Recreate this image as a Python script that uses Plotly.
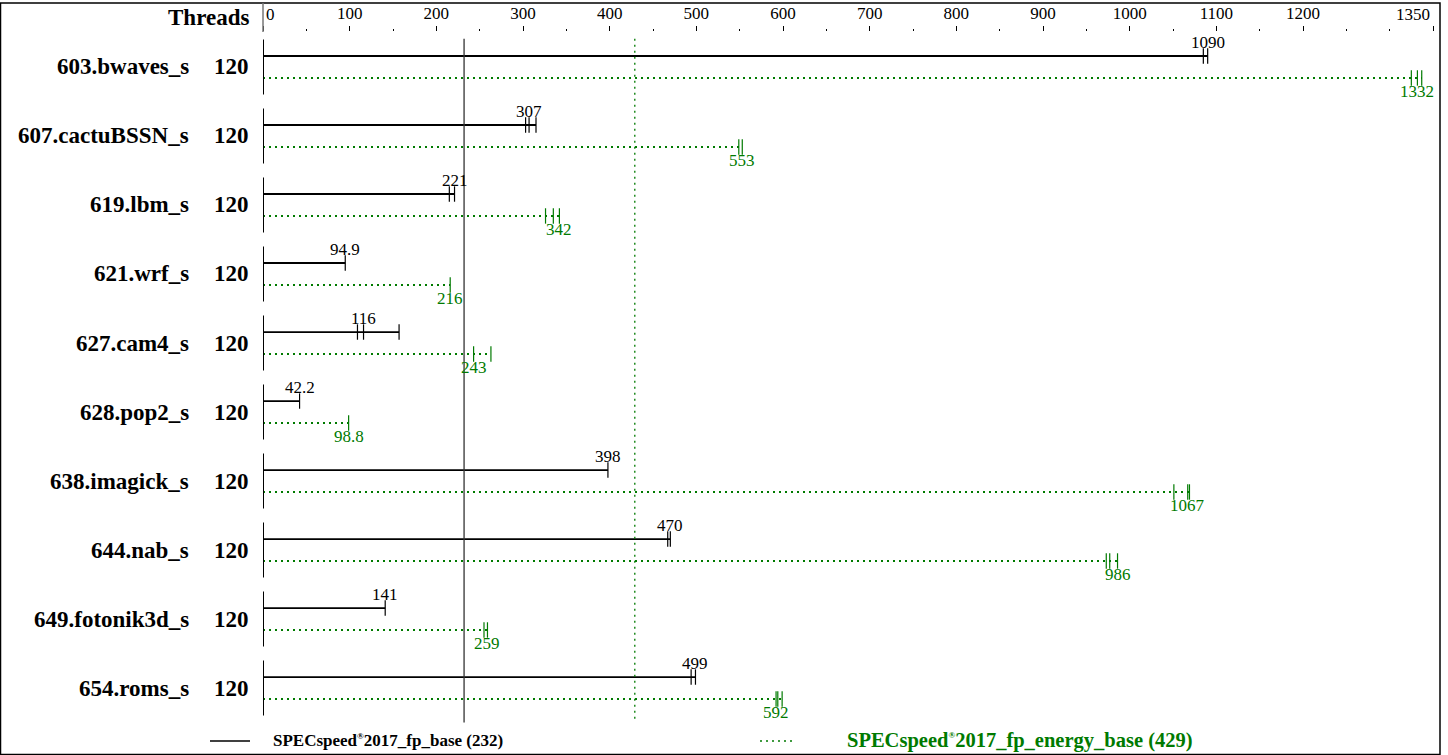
import plotly.graph_objects as go

# Benchmarks, thread counts and scores
benchmarks = ["603.bwaves_s", "607.cactuBSSN_s", "619.lbm_s", "621.wrf_s", "627.cam4_s",
              "628.pop2_s", "638.imagick_s", "644.nab_s", "649.fotonik3d_s", "654.roms_s"]
threads = [120, 120, 120, 120, 120, 120, 120, 120, 120, 120]

base_score = [1090, 307, 221, 94.9, 116, 42.2, 398, 470, 141, 499]
base_runs = [[1085, 1090], [303, 307, 315], [215, 221], [94.9], [109, 116, 157],
             [42.2], [398], [467, 470], [141], [494, 499]]

energy_score = [1332, 553, 342, 216, 243, 98.8, 1067, 986, 259, 592]
energy_runs = [[1325, 1332, 1337], [549, 553], [326, 335, 342], [216], [243, 263],
               [98.8], [1051, 1067, 1069], [973, 977, 986], [255, 259], [592, 594, 599]]

base_overall = 232
energy_overall = 429

x_ticks = [0, 100, 200, 300, 400, 500, 600, 700, 800, 900, 1000, 1100, 1200, 1350]
x_max = 1350

BLACK = "#000000"
GREEN = "#007a00"
SERIF = "Liberation Serif, Times New Roman, serif"
DOT = "2px,4px"
OFF = 0.159  # vertical offset of each series line from the row centre

fig = go.Figure()

n = len(benchmarks)

# Horizontal result lines
bx, by, ex, ey = [], [], [], []
for i in range(n):
    bx += [0, max(base_runs[i]), None]
    by += [i - OFF, i - OFF, None]
    ex += [0, max(energy_runs[i]), None]
    ey += [i + OFF, i + OFF, None]

fig.add_trace(go.Scatter(x=bx, y=by, mode="lines", line=dict(color=BLACK, width=1.8),
                         hoverinfo="skip", showlegend=False))
fig.add_trace(go.Scatter(x=ex, y=ey, mode="lines", line=dict(color=GREEN, width=2, dash=DOT),
                         hoverinfo="skip", showlegend=False))

# Individual run marks
rbx, rby, rex, rey = [], [], [], []
for i in range(n):
    for v in base_runs[i]:
        rbx.append(v)
        rby.append(i - OFF)
    for v in energy_runs[i]:
        rex.append(v)
        rey.append(i + OFF)

fig.add_trace(go.Scatter(x=rbx, y=rby, mode="markers",
                         marker=dict(symbol="line-ns", size=11, line=dict(color=BLACK, width=1.2)),
                         hoverinfo="skip", showlegend=False))
fig.add_trace(go.Scatter(x=rex, y=rey, mode="markers",
                         marker=dict(symbol="line-ns", size=11, line=dict(color=GREEN, width=1.2)),
                         hoverinfo="skip", showlegend=False))

shapes = []
annotations = []

# Row separators on the left edge
for i in range(n):
    shapes.append(dict(type="line", xref="x", yref="y", x0=0, x1=0, y0=i - 0.4, y1=i + 0.4,
                       line=dict(color=BLACK, width=2)))

# Overall score reference lines
shapes.append(dict(type="line", xref="x", yref="y", x0=base_overall, x1=base_overall,
                   y0=-0.41, y1=9.5, line=dict(color="#333333", width=1.3)))
shapes.append(dict(type="line", xref="x", yref="y", x0=energy_overall, x1=energy_overall,
                   y0=-0.41, y1=9.48, line=dict(color=GREEN, width=1.3, dash=DOT)))

# Frame and header separator
PX_L, PX_W, PX_T, PX_H = 263, 1170, 32, 691


def px(xp):
    return (xp - PX_L) / PX_W


def py(yp):
    return (PX_T + PX_H - yp) / PX_H


shapes.append(dict(type="rect", xref="paper", yref="paper", x0=px(0.5), x1=px(1440),
                   y0=py(754.5), y1=py(3), line=dict(color=BLACK, width=1.5)))
shapes.append(dict(type="line", xref="paper", yref="paper", x0=px(263), x1=px(263),
                   y0=py(3), y1=py(32), line=dict(color="#777777", width=1.5)))

# Outer axis labels, aligned to the plot edges
annotations.append(dict(x=x_ticks[0], y=py(15), xref="x", yref="paper", text=str(x_ticks[0]),
                        xanchor="left", yanchor="middle", xshift=1, showarrow=False,
                        font=dict(family=SERIF, size=17, color=BLACK)))
annotations.append(dict(x=x_ticks[-1], y=py(15), xref="x", yref="paper", text=str(x_ticks[-1]),
                        xanchor="right", yanchor="middle", xshift=-1, showarrow=False,
                        font=dict(family=SERIF, size=17, color=BLACK)))

# Value labels and row labels
for i in range(n):
    annotations.append(dict(x=base_score[i], y=i - OFF, xref="x", yref="y", text=f"{base_score[i]:g}",
                            showarrow=False, yshift=14, font=dict(family=SERIF, size=17, color=BLACK)))
    annotations.append(dict(x=energy_score[i], y=i + OFF, xref="x", yref="y", text=f"{energy_score[i]:g}",
                            showarrow=False, yshift=-14, font=dict(family=SERIF, size=17, color=GREEN)))
    annotations.append(dict(x=px(191), y=i, xref="paper", yref="y", text=f"<b>{benchmarks[i]}</b>",
                            xanchor="right", yanchor="middle", showarrow=False,
                            font=dict(family=SERIF, size=23, color=BLACK)))
    annotations.append(dict(x=px(251), y=i, xref="paper", yref="y", text=f"<b>{threads[i]}</b>",
                            xanchor="right", yanchor="middle", showarrow=False,
                            font=dict(family=SERIF, size=23, color=BLACK)))

annotations.append(dict(x=px(251), y=py(17), xref="paper", yref="paper", text="<b>Threads</b>",
                        xanchor="right", yanchor="middle", showarrow=False,
                        font=dict(family=SERIF, size=23, color=BLACK)))

# Legend
REG = "<sup><span style='font-size:9px'>®</span></sup>"
shapes.append(dict(type="line", xref="paper", yref="paper", x0=px(210), x1=px(250),
                   y0=py(741), y1=py(741), line=dict(color=BLACK, width=1.3)))
shapes.append(dict(type="line", xref="paper", yref="paper", x0=px(760), x1=px(792),
                   y0=py(741), y1=py(741), line=dict(color=GREEN, width=1.3, dash=DOT)))
annotations.append(dict(x=px(271), y=py(741), xref="paper", yref="paper",
                        text=f"<b>SPECspeed{REG}2017_fp_base ({base_overall})</b>",
                        xanchor="left", yanchor="middle", showarrow=False,
                        font=dict(family=SERIF, size=17, color=BLACK)))
annotations.append(dict(x=px(845), y=py(741), xref="paper", yref="paper",
                        text=f"<b>SPECspeed{REG}2017_fp_energy_base ({energy_overall})</b>",
                        xanchor="left", yanchor="middle", showarrow=False,
                        font=dict(family=SERIF, size=20.5, color=GREEN)))

tick_text = [str(t) for t in x_ticks]
tick_text[0] = ""
tick_text[-1] = ""

fig.update_layout(
    width=1448, height=755,
    margin=dict(l=PX_L, r=1448 - PX_L - PX_W, t=PX_T, b=755 - PX_T - PX_H, autoexpand=False),
    paper_bgcolor="white", plot_bgcolor="white",
    shapes=shapes, annotations=annotations,
    xaxis=dict(range=[0, x_max], side="top", tickvals=x_ticks, ticktext=tick_text,
               ticks="outside", ticklen=5, tickwidth=1, tickcolor=BLACK, automargin=False,
               minor=dict(tickvals=[v for v in range(50, 1350, 50) if v not in x_ticks],
                          ticks="outside", ticklen=2, tickwidth=1, tickcolor=BLACK),
               showgrid=False, zeroline=False, showline=False, ticklabeloverflow="allow",
               tickfont=dict(family=SERIF, size=17, color=BLACK), fixedrange=True),
    yaxis=dict(range=[9.507, -0.507], showticklabels=False, showgrid=False, zeroline=False,
               showline=False, ticks="", automargin=False, fixedrange=True),
    showlegend=False,
)

fig.write_html("out.html")
